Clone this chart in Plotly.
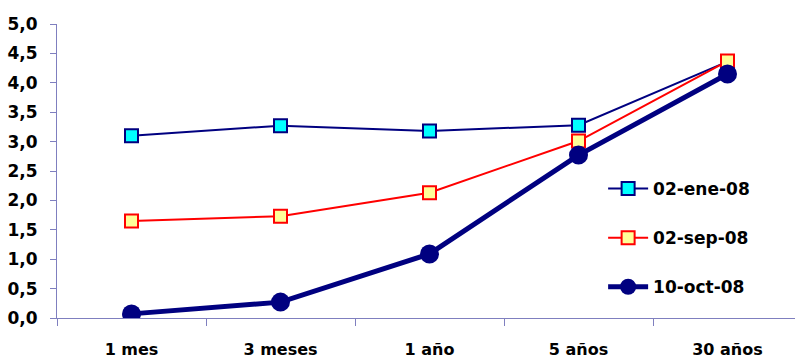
import plotly.graph_objects as go

# Plazos de la curva de tipos
plazos = ["1 mes", "3 meses", "1 año", "5 años", "30 años"]

# Rentabilidad (%) por fecha
ene_08 = [3.10, 3.27, 3.18, 3.28, 4.36]
sep_08 = [1.65, 1.73, 2.13, 3.01, 4.37]
oct_08 = [0.07, 0.27, 1.09, 2.77, 4.15]

y_ticks = [0, 0.5, 1, 1.5, 2, 2.5, 3, 3.5, 4, 4.5, 5]

NAVY = "#000080"
AXIS = "#7F7FBF"
FONT = "DejaVu Sans"

fig = go.Figure()
fig.add_trace(go.Scatter(
    x=plazos, y=ene_08, name="02-ene-08", mode="lines+markers",
    line=dict(color=NAVY, width=2),
    marker=dict(symbol="square", size=13, color="#00FFFF",
                line=dict(color=NAVY, width=2)),
    legendgroup="a",
))
fig.add_trace(go.Scatter(
    x=plazos, y=sep_08, name="02-sep-08", mode="lines+markers",
    line=dict(color="#FF0000", width=2),
    marker=dict(symbol="square", size=13, color="#FFFF99",
                line=dict(color="#FF0000", width=2)),
    legendgroup="b",
))
fig.add_trace(go.Scatter(
    x=plazos, y=oct_08, name="10-oct-08", mode="lines+markers",
    line=dict(color=NAVY, width=5),
    marker=dict(symbol="circle", size=19, color=NAVY,
                line=dict(color=NAVY, width=0)),
    legendgroup="c",
))

fig.update_layout(
    width=795, height=358,
    margin=dict(l=57, r=0, t=24, b=40),
    paper_bgcolor="white", plot_bgcolor="white",
    separators=",.",
    font=dict(family=FONT, size=16, color="black"),
    showlegend=True,
    legend=dict(
        x=0.74, y=0.50, xanchor="left", yanchor="top",
        font=dict(family=FONT, size=17, color="black", weight="bold"),
        tracegroupgap=24, itemwidth=40, traceorder="grouped",
        bgcolor="rgba(0,0,0,0)",
    ),
    xaxis=dict(
        type="category", range=[-0.5, 4.453],
        showline=True, linecolor=AXIS, linewidth=1,
        ticks="outside", tickcolor=AXIS, ticklen=7, tickson="boundaries",
        ticklabelstandoff=17,
        showgrid=False, zeroline=False,
        tickfont=dict(family=FONT, size=16, weight="bold"),
    ),
    yaxis=dict(
        range=[0, 5], tickvals=y_ticks, tickformat=".1f",
        showline=True, linecolor=AXIS, linewidth=1,
        ticks="outside", tickcolor=AXIS, ticklen=6,
        ticklabelstandoff=9,
        showgrid=False, zeroline=False,
        tickfont=dict(family=FONT, size=17, weight="bold"),
    ),
)

fig.write_html("out.html")
